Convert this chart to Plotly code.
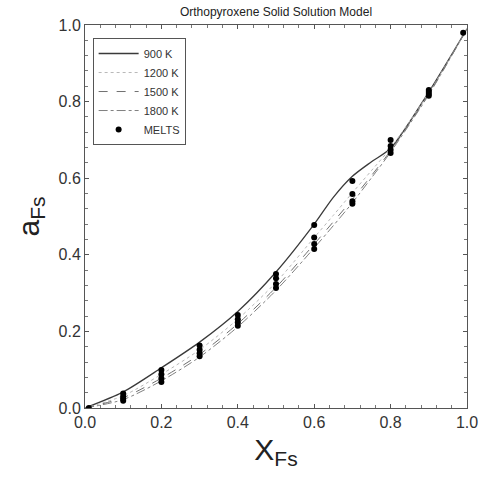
import plotly.graph_objects as go

x_model = [0.0, 0.1, 0.2, 0.3, 0.4, 0.5, 0.6, 0.65, 0.7, 0.75, 0.8, 0.9, 1.0]
a_900 = [0.0, 0.042, 0.105, 0.172, 0.252, 0.355, 0.48, 0.55, 0.605, 0.643, 0.678, 0.825, 0.99]
a_1200 = [0.0, 0.032, 0.088, 0.152, 0.232, 0.328, 0.445, 0.503, 0.562, 0.62, 0.679, 0.823, 0.99]
a_1500 = [0.0, 0.027, 0.078, 0.140, 0.220, 0.315, 0.428, 0.486, 0.545, 0.607, 0.672, 0.82, 0.99]
a_1800 = [0.0, 0.022, 0.071, 0.133, 0.212, 0.307, 0.418, 0.476, 0.536, 0.601, 0.668, 0.818, 0.99]

x_melts = [0.01,
           0.1, 0.1, 0.1, 0.1,
           0.2, 0.2, 0.2, 0.2,
           0.3, 0.3, 0.3, 0.3,
           0.4, 0.4, 0.4, 0.4,
           0.5, 0.5, 0.5, 0.5,
           0.6, 0.6, 0.6, 0.6,
           0.7, 0.7, 0.7, 0.7,
           0.8, 0.8, 0.8, 0.8,
           0.9, 0.9, 0.9, 0.9,
           0.99]
a_melts = [0.0,
           0.038, 0.030, 0.024, 0.019,
           0.099, 0.088, 0.078, 0.068,
           0.163, 0.152, 0.143, 0.135,
           0.243, 0.232, 0.223, 0.215,
           0.350, 0.339, 0.324, 0.313,
           0.478, 0.445, 0.428, 0.415,
           0.593, 0.559, 0.540, 0.533,
           0.700, 0.684, 0.674, 0.666,
           0.830, 0.825, 0.820, 0.815,
           0.980]

fig = go.Figure()
line_styles = [
    ("900 K", a_900, "#3a3a3a", "solid", 1.3),
    ("1200 K", a_1200, "#b8b8b8", "dot", 1.0),
    ("1500 K", a_1500, "#707070", "dash", 1.0),
    ("1800 K", a_1800, "#808080", "dashdot", 1.0),
]
for name, ys, col, dash, w in line_styles:
    fig.add_trace(go.Scatter(x=x_model, y=ys, mode="lines", name=name,
                             line=dict(color=col, dash=dash, width=w, shape="spline", smoothing=0.8)))
fig.add_trace(go.Scatter(x=x_melts, y=a_melts, mode="markers", name="MELTS",
                         marker=dict(color="black", size=6)))

axis_common = dict(
    range=[0, 1], showline=True, linecolor="#555", linewidth=1, mirror="allticks",
    ticks="inside", ticklen=4, tickcolor="#555", tickwidth=1,
    dtick=0.2, tick0=0, tickformat=".1f",
    minor=dict(dtick=0.04, ticks="inside", ticklen=3, tickcolor="#777"),
    showgrid=False, zeroline=False, automargin=False,
    tickfont=dict(family="Liberation Sans, Arial", size=16, color="#333"),
)
fig.update_xaxes(**axis_common,
                 title=dict(text="X<sub>Fs</sub>", font=dict(family="Liberation Sans, Arial", size=30, color="#222"), standoff=8))
fig.update_yaxes(**axis_common,
                 title=dict(text="a<sub>Fs</sub>", font=dict(family="Liberation Sans, Arial", size=30, color="#222"), standoff=10))

fig.update_layout(
    width=479, height=480,
    margin=dict(l=85, r=12, t=25, b=72, autoexpand=False),
    paper_bgcolor="white", plot_bgcolor="white",
    title=dict(text="Orthopyroxene Solid Solution Model", x=0.5, xanchor="center",
               xref="paper", yref="container", y=0.985, yanchor="top",
               font=dict(family="Liberation Sans, Arial", size=12, color="#222")),
    legend=dict(x=0.02, y=0.966, xanchor="left", yanchor="top",
                bordercolor="#555", borderwidth=1, bgcolor="white",
                font=dict(family="Liberation Sans, Arial", size=11, color="#333"),
                tracegroupgap=0, itemwidth=40),
    showlegend=True,
)

fig.write_html("out.html",
               config={"displayModeBar": False},
               post_script="document.body.style.margin='0';document.body.style.overflow='hidden';")
